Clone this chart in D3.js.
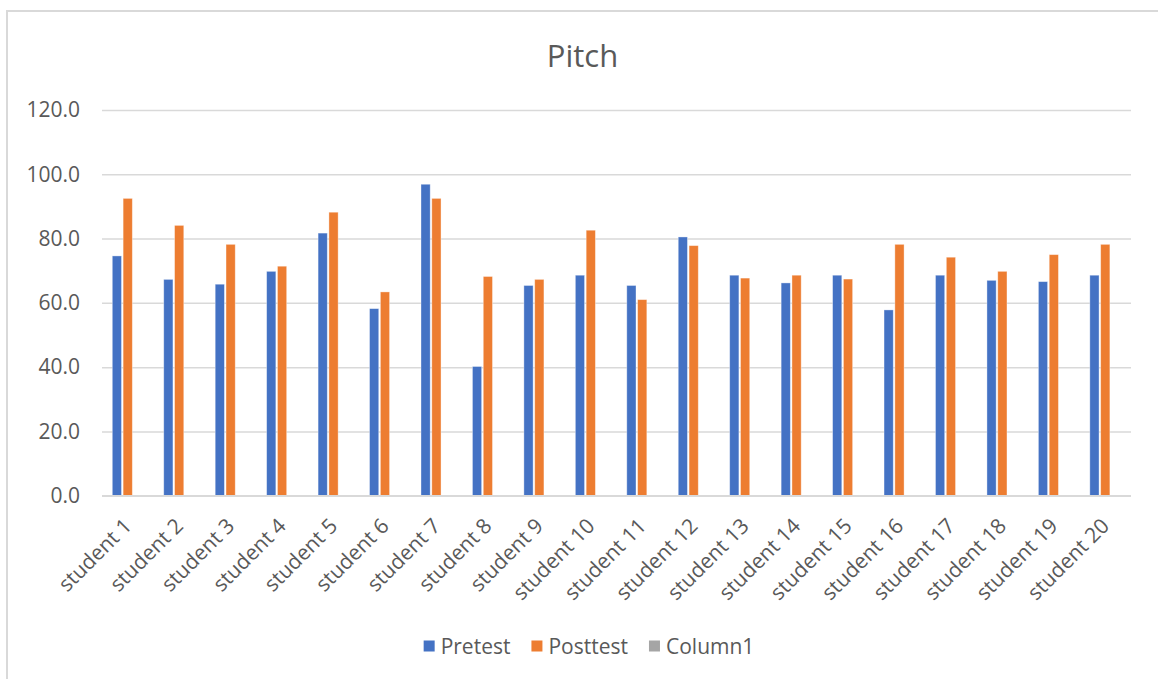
<!DOCTYPE html>
<html>
<head>
<meta charset="utf-8">
<script src="https://cdn.jsdelivr.net/npm/d3@7"></script>
<style>
  html, body { margin: 0; padding: 0; background: #fff; }
  svg { display: block; font-family: "Open Sans", "Noto Sans", sans-serif; }
</style>
</head>
<body>
<svg id="chart" width="1158" height="679"></svg>
<script>
// Pitch scores per student
const students = d3.range(1, 21).map(i => "student " + i);
const seriesNames = ["Pretest", "Posttest", "Column1"];
const pretest  = [74.6, 67.3, 65.8, 69.8, 81.7, 58.2, 96.9, 40.2, 65.4, 68.6,
                  65.4, 80.5, 68.6, 66.2, 68.6, 57.8, 68.6, 67.0, 66.6, 68.6];
const posttest = [92.5, 84.1, 78.2, 71.4, 88.2, 63.4, 92.5, 68.2, 67.3, 82.6,
                  61.0, 77.8, 67.7, 68.6, 67.4, 78.2, 74.2, 69.8, 75.0, 78.2];
const column1  = students.map(() => null); // empty series, only shown in the legend
const yTicks = [0, 20, 40, 60, 80, 100, 120];
const colors = ["#4472C4", "#ED7D31", "#A5A5A5"];

const svg = d3.select("#chart");
const textColor = "#595959";
const gridColor = "#d9d9d9";
const labelSize = 21;

// Chart frame
svg.append("rect")
  .attr("x", 7).attr("y", 11)
  .attr("width", 1200).attr("height", 700)
  .attr("fill", "#fff")
  .attr("stroke", gridColor).attr("stroke-width", 2);

const plot = { left: 102, right: 1131, top: 110, bottom: 495.7 };

const y = d3.scaleLinear().domain([0, 120]).range([plot.bottom, plot.top]);
const x = d3.scaleBand().domain(students)
  .range([plot.left, plot.right])
  .paddingInner(0.4).paddingOuter(0.2);
const xs = d3.scaleBand().domain(seriesNames)
  .range([0, x.bandwidth()]).paddingInner(0.15);

// Title
svg.append("text")
  .attr("x", 582.5).attr("y", 67)
  .attr("text-anchor", "middle")
  .attr("fill", textColor)
  .attr("font-size", 31)
  .text("Pitch");

// Gridlines and value axis labels
const yAxis = d3.axisLeft(y).tickValues(yTicks)
  .tickSize(-(plot.right - plot.left))
  .tickPadding(22)
  .tickFormat(d3.format(".1f"));
const gy = svg.append("g")
  .attr("transform", `translate(${plot.left},0)`)
  .call(yAxis);
gy.select(".domain").remove();
gy.selectAll(".tick line").attr("stroke", gridColor).attr("stroke-width", 1.5);
gy.selectAll(".tick text")
  .attr("fill", textColor)
  .attr("font-size", labelSize)
  .attr("font-family", "Open Sans, Noto Sans, sans-serif");

// Bars
const seriesData = [pretest, posttest, column1];
seriesData.forEach((vals, si) => {
  svg.append("g")
    .selectAll("rect")
    .data(students.map((s, i) => ({ s, v: vals[i] })).filter(d => d.v != null))
    .join("rect")
    .attr("x", d => x(d.s) + xs(seriesNames[si]))
    .attr("y", d => y(d.v))
    .attr("width", xs.bandwidth())
    .attr("height", d => y(0) - y(d.v))
    .attr("fill", colors[si])
    .attr("stroke", "#ffffff")
    .attr("stroke-opacity", 0.45)
    .attr("stroke-width", 0.8);
});

// Category axis line
svg.append("line")
  .attr("x1", plot.left).attr("x2", plot.right)
  .attr("y1", y(0)).attr("y2", y(0))
  .attr("stroke", gridColor).attr("stroke-width", 1.5);

// Rotated category labels
svg.append("g")
  .selectAll("text")
  .data(students)
  .join("text")
  .attr("transform", d => `translate(${x(d) + x.bandwidth() / 2},522) rotate(-45)`)
  .attr("text-anchor", "end")
  .attr("dy", "0.35em")
  .attr("fill", textColor)
  .attr("font-size", labelSize)
  .text(d => d);

// Legend, centred under the chart
const legend = svg.append("g");
let lx = 0;
seriesNames.forEach((name, i) => {
  legend.append("rect")
    .attr("x", lx).attr("y", 640.5)
    .attr("width", 11).attr("height", 11)
    .attr("fill", colors[i]);
  const t = legend.append("text")
    .attr("x", lx + 17).attr("y", 653.5)
    .attr("fill", textColor)
    .attr("font-size", labelSize)
    .text(name);
  lx += 17 + t.node().getComputedTextLength() + (i < seriesNames.length - 1 ? 21 : 0);
});
legend.attr("transform", `translate(${589 - lx / 2},0)`);
</script>
</body>
</html>
